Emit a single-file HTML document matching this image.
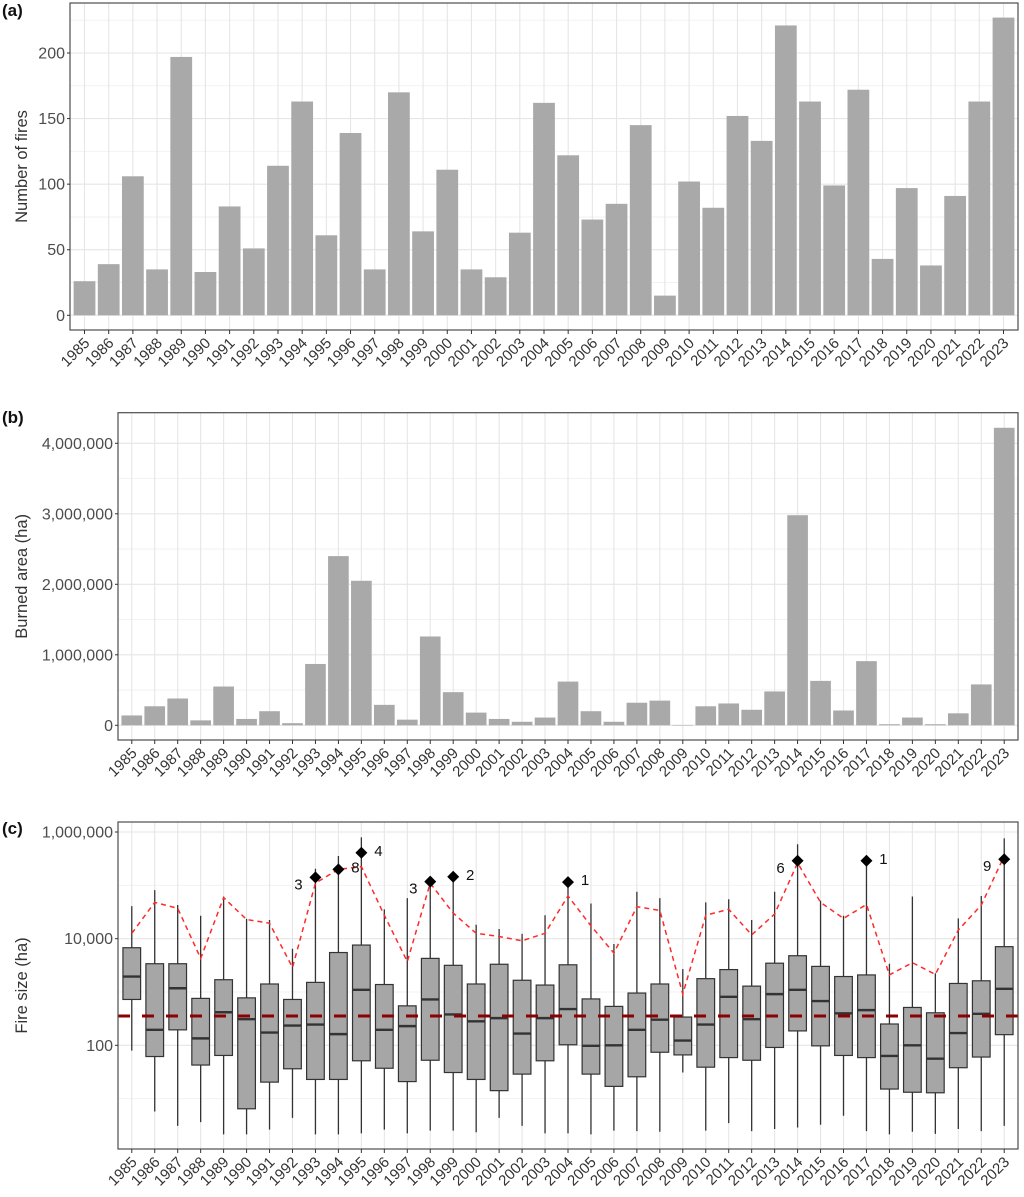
<!DOCTYPE html>
<html><head><meta charset="utf-8">
<style>
html,body{margin:0;padding:0;background:#fff;}
svg{display:block;font-family:"Liberation Sans",Arial,sans-serif;}
</style></head>
<body>
<svg id="fig" width="1024" height="1197" viewBox="0 0 1024 1197" xmlns="http://www.w3.org/2000/svg"></svg>
<script>
const years = ["1985","1986","1987","1988","1989","1990","1991","1992","1993","1994","1995","1996","1997","1998","1999","2000","2001","2002","2003","2004","2005","2006","2007","2008","2009","2010","2011","2012","2013","2014","2015","2016","2017","2018","2019","2020","2021","2022","2023"];
const fireCounts = [26,39,106,35,197,33,83,51,114,163,61,139,35,170,64,111,35,29,63,162,122,73,85,145,15,102,82,152,133,221,163,99,172,43,97,38,91,163,227];
const burnedArea = [140000,270000,380000,70000,550000,90000,200000,30000,870000,2400000,2050000,290000,80000,1260000,470000,180000,90000,50000,110000,620000,200000,50000,320000,350000,5000,270000,310000,220000,480000,2980000,630000,210000,910000,15000,110000,15000,170000,580000,4220000];
// fire size distributions, log10(ha)
const whiskerHighLog = [4.61,4.91,4.63,4.43,4.79,4.37,4.35,3.81,5.31,5.55,5.90,4.55,4.76,5.07,5.16,4.26,4.18,4.09,4.44,5.06,4.66,3.90,4.88,4.76,3.43,4.68,4.74,4.35,4.88,5.77,4.71,4.43,5.46,3.53,4.79,3.35,4.38,4.80,5.88];
const q3Log = [3.83,3.53,3.53,2.88,3.23,2.89,3.15,2.86,3.18,3.74,3.88,3.14,2.74,3.63,3.50,3.15,3.52,3.22,3.13,3.51,2.87,2.73,2.98,3.15,2.53,3.25,3.42,3.11,3.54,3.68,3.48,3.29,3.32,2.40,2.71,2.61,3.16,3.21,3.85];
const medianLog = [3.29,2.29,3.07,2.13,2.62,2.49,2.24,2.37,2.39,2.21,3.04,2.29,2.36,2.86,2.58,2.45,2.51,2.22,2.51,2.68,1.99,2.00,2.29,2.48,2.09,2.39,2.91,2.49,2.96,3.04,2.83,2.60,2.66,1.80,2.00,1.75,2.23,2.59,3.06];
const q1Log = [2.86,1.79,2.29,1.63,1.81,0.81,1.31,1.56,1.36,1.36,1.71,1.57,1.32,1.72,1.49,1.36,1.15,1.46,1.71,2.01,1.46,1.23,1.41,1.87,1.82,1.59,1.77,1.72,1.96,2.27,1.99,1.81,1.77,1.18,1.12,1.11,1.58,1.78,2.20];
const whiskerLowLog = [1.90,0.76,0.49,0.56,0.33,0.33,0.42,0.64,0.33,0.33,0.35,0.42,0.35,0.40,0.40,0.37,0.64,0.49,0.35,0.35,0.33,0.40,0.39,0.38,1.49,0.40,0.54,0.39,0.43,0.46,0.51,0.68,0.39,0.33,0.38,0.34,0.43,0.39,0.49];
const upperLineLog = [4.10,4.68,4.57,3.63,4.77,4.36,4.29,3.46,5.04,5.30,5.35,4.44,3.57,5.04,4.48,4.10,4.04,3.96,4.10,4.80,4.24,3.73,4.60,4.53,2.96,4.44,4.55,4.07,4.46,5.42,4.68,4.38,4.64,3.32,3.55,3.33,4.16,4.63,5.55];
const outlierLog = [null,null,null,null,null,null,null,null,5.15,5.30,5.61,null,null,5.07,5.16,null,null,null,null,5.06,null,null,null,null,null,null,null,null,null,5.46,null,null,5.46,null,null,null,null,null,5.49];
const outlierLabel = [null,null,null,null,null,null,null,null,"3","8","4",null,null,"3","2",null,null,null,null,"1",null,null,null,null,null,null,null,null,null,"6",null,null,"1",null,null,null,null,null,"9"];
const outlierLabelSide = [0,0,0,0,0,0,0,0,-1,1,1,0,0,-1,1,0,0,0,0,1,0,0,0,0,0,0,0,0,0,-1,0,0,1,0,0,0,0,0,-1];
const overallMedianLog = 2.55;
const countTicks = [0,50,100,150,200];
const areaTicks = [0,1000000,2000000,3000000,4000000];
const sizeTicks = [2,4,6];

const NS="http://www.w3.org/2000/svg";
const svg=document.getElementById('fig');
function mk(tag,attrs,parent){const e=document.createElementNS(NS,tag);for(const k in attrs)e.setAttribute(k,attrs[k]);(parent||svg).appendChild(e);return e;}
function fmt(n){return n.toLocaleString('en-US');}

function panel(cfg){
  const g=mk('g',{});
  
  
  const L=cfg.L,R=cfg.R,T=cfg.T,B=cfg.B,n=years.length;
  const step=(R-L)/(n-1+1.2);
  const xc=i=>L+step*(0.6+i);
  const grid=mk('g',{},g);
  
  
  cfg.minor.forEach(v=>{const y=cfg.y(v);mk('line',{x1:L,x2:R,y1:y,y2:y,stroke:'#f2f2f2','stroke-width':1},grid);});
  cfg.major.forEach(v=>{const y=cfg.y(v);mk('line',{x1:L,x2:R,y1:y,y2:y,stroke:'#e6e6e6','stroke-width':1.1},grid);});
  for(let i=0;i<n;i++){mk('line',{x1:xc(i),x2:xc(i),y1:T,y2:B,stroke:'#e6e6e6','stroke-width':1.1},grid);}
  cfg.draw(g,xc,step);
  mk('rect',{x:L,y:T,width:R-L,height:B-T,fill:'none',stroke:'#4d4d4d','stroke-width':1.2},g);
  const ya=mk('g',{},g);
  
  
  cfg.major.forEach((v,k)=>{const y=cfg.y(v);
    mk('line',{x1:L-3,x2:L,y1:y,y2:y,stroke:'#333','stroke-width':1},ya);
    const t=mk('text',{x:L-5,y:y+5.5,'text-anchor':'end','font-size':16,fill:'#4d4d4d'},ya);
    t.textContent=cfg.tickLabels[k];
    
    
  });
  const xa=mk('g',{},g);
  
  
  for(let i=0;i<n;i++){const x=xc(i);
    mk('line',{x1:x,x2:x,y1:B,y2:B+4,stroke:'#333','stroke-width':1},xa);
    const t=mk('text',{x:x+6,y:B+14,'text-anchor':'end','font-size':15,fill:'#333',transform:`rotate(-45 ${x+6} ${B+14})`},xa);
    t.textContent=years[i];
    
    
  }
  const yt=mk('text',{x:0,y:0,'text-anchor':'middle','font-size':16.5,fill:'#333',transform:`translate(27 ${(T+B)/2}) rotate(-90)`},g);
  yt.textContent=cfg.ytitle;
  
  
  const pl=mk('text',{x:2,y:cfg.labelY,'font-size':17,'font-weight':'bold',fill:'#111'},g);
  pl.textContent=cfg.label;
  
  
}

(function(){
  const T=3,B=330,y0=315.3,k=1.3115;
  const y=v=>y0-v*k;
  panel({name:'panel-a-fire-counts',L:70,R:1018,T,B,y,major:countTicks,minor:[25,75,125,175,225],
    tickLabels:countTicks.map(String),ytitle:'Number of fires',label:'(a)',labelY:16,
    draw:(g,xc,step)=>{fireCounts.forEach((v,i)=>{const w=step*0.9;
      const r=mk('rect',{x:xc(i)-w/2,y:y(v),width:w,height:y(0)-y(v),fill:'#a9a9a9'},g);
      
      });}
  });
})();
(function(){
  const T=412.7,B=740,y0=725.3,k=70.5/1000000;
  const y=v=>y0-v*k;
  panel({name:'panel-b-burned-area',L:118,R:1018,T,B,y,major:areaTicks,minor:[500000,1500000,2500000,3500000],
    tickLabels:areaTicks.map(fmt),ytitle:'Burned area (ha)',label:'(b)',labelY:423,
    draw:(g,xc,step)=>{burnedArea.forEach((v,i)=>{const w=step*0.9;
      const r=mk('rect',{x:xc(i)-w/2,y:y(v),width:w,height:Math.max(0.5,y(0)-y(v)),fill:'#a9a9a9'},g);
      
      });}
  });
})();
(function(){
  const T=822,B=1149,k=53.33;
  const y=lv=>832+(6-lv)*k;
  panel({name:'panel-c-fire-size',L:118,R:1018,T,B,y,major:sizeTicks,minor:[1,3,5],
    tickLabels:sizeTicks.map(p=>fmt(Math.pow(10,p))),ytitle:'Fire size (ha)',label:'(c)',labelY:834,
    draw:(g,xc,step)=>{
      const w=step*0.77;
      years.forEach((yr,i)=>{
        const bg=mk('g',{},g);
        
        
        const x=xc(i);
        mk('line',{x1:x,x2:x,y1:y(whiskerHighLog[i]),y2:y(whiskerLowLog[i]),stroke:'#333','stroke-width':1.3},bg);
        mk('rect',{x:x-w/2,y:y(q3Log[i]),width:w,height:y(q1Log[i])-y(q3Log[i]),fill:'#a6a6a6',stroke:'#333','stroke-width':1.2},bg);
        mk('line',{x1:x-w/2,x2:x+w/2,y1:y(medianLog[i]),y2:y(medianLog[i]),stroke:'#333','stroke-width':2.4},bg);
      });
      const ml=mk('line',{x1:118,x2:1018,y1:y(overallMedianLog),y2:y(overallMedianLog),stroke:'#8b0000','stroke-width':3,'stroke-dasharray':'12 12'},g);
      
      
      const pts=upperLineLog.map((v,i)=>xc(i).toFixed(1)+','+y(v).toFixed(1)).join(' ');
      const pl=mk('polyline',{points:pts,fill:'none',stroke:'#ff2a2a','stroke-width':1.5,'stroke-dasharray':'5 4'},g);
      
      
      outlierLog.forEach((v,i)=>{ if(v==null)return;
        const x=xc(i),yy=y(v);
        const d=mk('polygon',{points:`${x},${yy-6} ${x+6},${yy} ${x},${yy+6} ${x-6},${yy}`,fill:'#000'},g);
        
        
        const s=outlierLabelSide[i];
        const t=mk('text',{x:x+s*17,y:yy+(s<0?12:3),'text-anchor':'middle','font-size':15,fill:'#111'},g);
        t.textContent=outlierLabel[i];
        
        
      });
    }
  });
})();
</script>
</body></html>
